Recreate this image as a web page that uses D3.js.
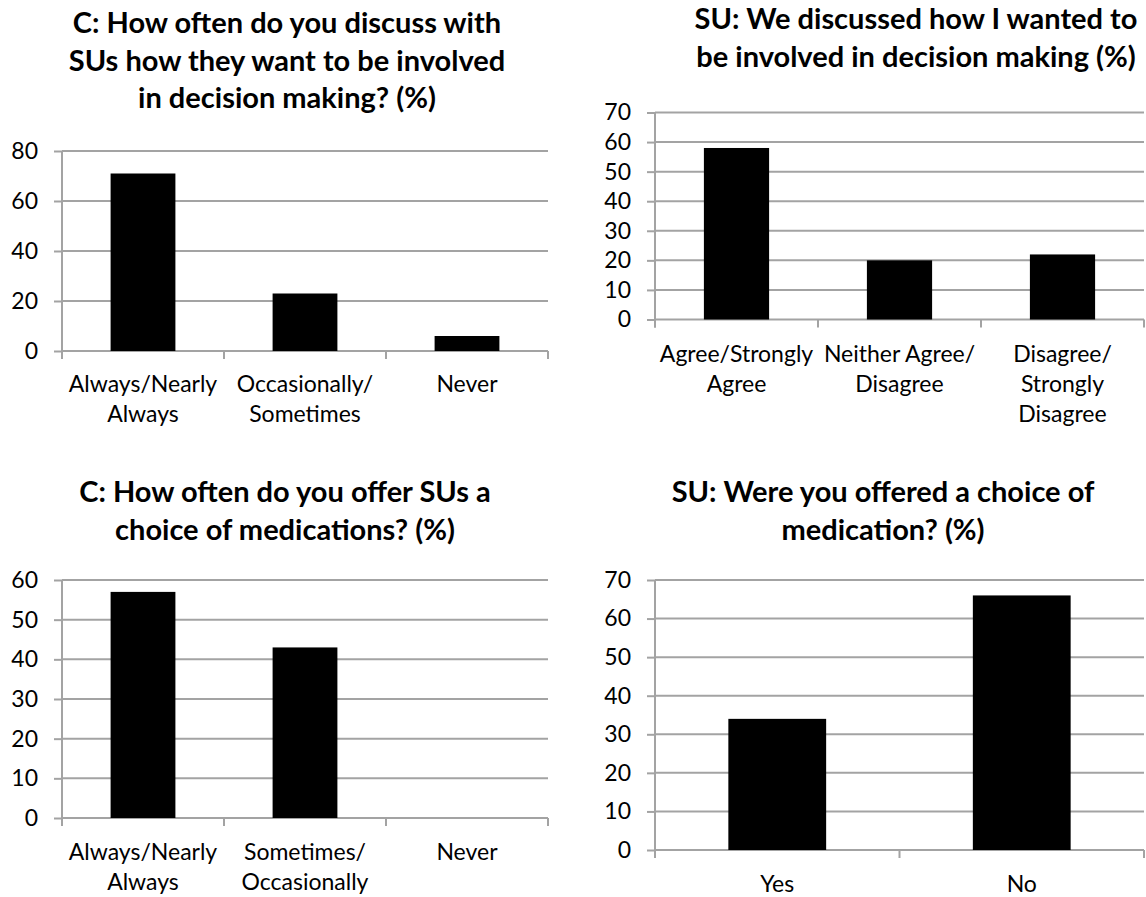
<!DOCTYPE html>
<html>
<head>
<meta charset="utf-8">
<script src="https://cdn.jsdelivr.net/npm/d3@7"></script>
<style>
  html, body { margin: 0; padding: 0; background: #fff; }
  svg { display: block; }
  text { font-family: Lato, "Open Sans", sans-serif; fill: #000; }
</style>
</head>
<body>
<svg id="chart" width="1146" height="897"></svg>
<script>
// ---------- DATA ----------
const p1Title = ["C: How often do you discuss with", "SUs how they want to be involved", "in decision making? (%)"];
const p1Categories = [["Always/Nearly", "Always"], ["Occasionally/", "Sometimes"], ["Never"]];
const p1Values = [71, 23, 6];
const p1Ticks = [0, 20, 40, 60, 80];

const p2Title = ["SU: We discussed how I wanted to", "be involved in decision making (%)"];
const p2Categories = [["Agree/Strongly", "Agree"], ["Neither Agree/", "Disagree"], ["Disagree/", "Strongly", "Disagree"]];
const p2Values = [58, 20, 22];
const p2Ticks = [0, 10, 20, 30, 40, 50, 60, 70];

const p3Title = ["C: How often do you offer SUs a", "choice of medications? (%)"];
const p3Categories = [["Always/Nearly", "Always"], ["Sometimes/", "Occasionally"], ["Never"]];
const p3Values = [57, 43, 0];
const p3Ticks = [0, 10, 20, 30, 40, 50, 60];

const p4Title = ["SU: Were you offered a choice of", "medication? (%)"];
const p4Categories = [["Yes"], ["No"]];
const p4Values = [34, 66];
const p4Ticks = [0, 10, 20, 30, 40, 50, 60, 70];

// ---------- LAYOUT ----------
const panels = [
  { title: p1Title, cats: p1Categories, vals: p1Values, ticks: p1Ticks,
    x0: 62, x1: 548, yTop: 151, yBot: 351, titleX: 287, titleY: 33, labelY: 392 },
  { title: p2Title, cats: p2Categories, vals: p2Values, ticks: p2Ticks,
    x0: 655, x1: 1144, yTop: 112.5, yBot: 319.5, titleX: 916, titleY: 29, labelY: 362 },
  { title: p3Title, cats: p3Categories, vals: p3Values, ticks: p3Ticks,
    x0: 62, x1: 548, yTop: 580, yBot: 818, titleX: 285, titleY: 502, labelY: 860 },
  { title: p4Title, cats: p4Categories, vals: p4Values, ticks: p4Ticks,
    x0: 655, x1: 1144, yTop: 580, yBot: 850, titleX: 883, titleY: 502, labelY: 892 }
];

const GRID = "#a3a3a3";
const svg = d3.select("#chart");

panels.forEach(p => {
  const g = svg.append("g");
  const n = p.cats.length;
  const keys = d3.range(n);

  const x = d3.scaleBand().domain(keys).range([p.x0, p.x1]).paddingInner(0.6).paddingOuter(0.3);
  const xb = d3.scaleLinear().domain([0, n]).range([p.x0, p.x1]);
  const y = d3.scaleLinear().domain([0, d3.max(p.ticks)]).range([p.yBot, p.yTop]);

  // title
  const t = g.append("text")
    .attr("text-anchor", "middle")
    .attr("font-weight", "bold")
    .attr("font-size", 29);
  p.title.forEach((line, i) => {
    t.append("tspan").attr("x", p.titleX).attr("y", p.titleY + i * 37.5).text(line);
  });

  // gridlines
  g.append("g").selectAll("line").data(p.ticks).join("line")
    .attr("x1", p.x0).attr("x2", p.x1)
    .attr("y1", d => y(d)).attr("y2", d => y(d))
    .attr("stroke", GRID).attr("stroke-width", 2);

  // y axis
  const ya = g.append("g").attr("transform", `translate(${p.x0},0)`)
    .call(d3.axisLeft(y).tickValues(p.ticks).tickSize(8).tickPadding(16).tickFormat(d3.format("d")));
  ya.select(".domain").remove();
  ya.selectAll(".tick line").attr("stroke", GRID).attr("stroke-width", 2);
  ya.selectAll(".tick text").attr("font-size", 23).attr("font-family", "Lato, sans-serif").attr("fill", "#000");

  // vertical axis line
  g.append("line")
    .attr("x1", p.x0).attr("x2", p.x0)
    .attr("y1", y(d3.max(p.ticks))).attr("y2", p.yBot + 8)
    .attr("stroke", GRID).attr("stroke-width", 2);

  // category tick marks
  g.append("g").selectAll("line").data(d3.range(n + 1)).join("line")
    .attr("x1", d => xb(d)).attr("x2", d => xb(d))
    .attr("y1", p.yBot).attr("y2", p.yBot + 8)
    .attr("stroke", GRID).attr("stroke-width", 2);

  // bars
  g.append("g").selectAll("rect").data(p.vals).join("rect")
    .attr("x", (d, i) => x(i))
    .attr("width", x.bandwidth())
    .attr("y", d => y(d))
    .attr("height", d => y(0) - y(d))
    .attr("fill", "#000");

  // category labels
  p.cats.forEach((lines, i) => {
    const cx = x(i) + x.bandwidth() / 2;
    const lt = g.append("text").attr("text-anchor", "middle").attr("font-size", 23);
    lines.forEach((line, j) => {
      lt.append("tspan").attr("x", cx).attr("y", p.labelY + j * 30).text(line);
    });
  });
});
</script>
</body>
</html>
